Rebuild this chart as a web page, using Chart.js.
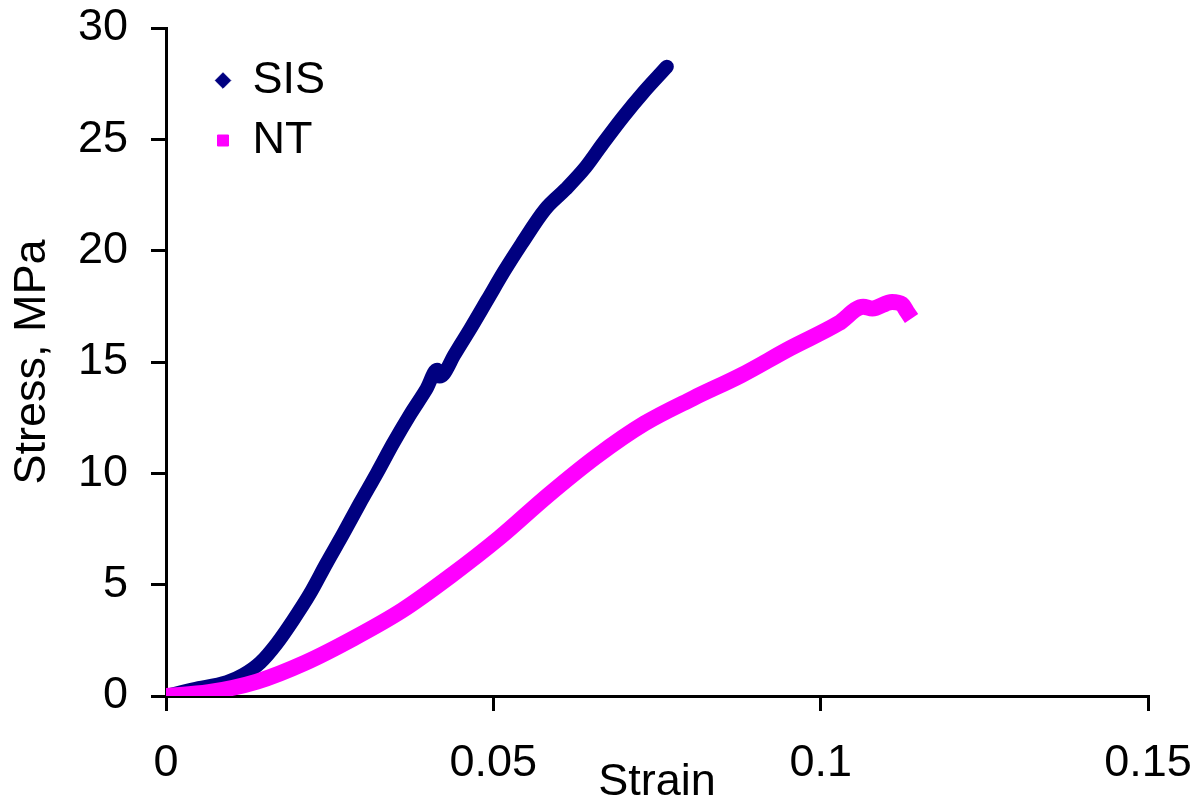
<!DOCTYPE html>
<html>
<head>
<meta charset="utf-8">
<script src="https://cdn.jsdelivr.net/npm/chart.js@4/dist/chart.umd.min.js"></script>
<style>
  body { margin: 0; background: #fff; }
  canvas { display: block; }
</style>
</head>
<body>
<canvas id="stressChart" width="1202" height="803"></canvas>
<script>
// values
const sisStrain = [0, 0.0042, 0.0093, 0.0118, 0.0144, 0.0169, 0.0194, 0.022, 0.0245, 0.0271, 0.0296, 0.0322, 0.0347, 0.0373, 0.0398, 0.0414, 0.0418, 0.0424, 0.044, 0.0465, 0.0491, 0.0517, 0.0543, 0.0579, 0.061, 0.0641, 0.0667, 0.0698, 0.0729, 0.0765];
const sisStress = [0, 0.3, 0.62, 0.95, 1.5, 2.35, 3.4, 4.6, 5.95, 7.3, 8.65, 10.0, 11.35, 12.65, 13.8, 14.65, 14.35, 14.45, 15.3, 16.5, 17.8, 19.1, 20.3, 21.85, 22.75, 23.75, 24.8, 26.0, 27.1, 28.26];

const ntStrain = [0, 0.0065, 0.0139, 0.0213, 0.0287, 0.0361, 0.0435, 0.0509, 0.0583, 0.0657, 0.0731, 0.0805, 0.0879, 0.0953, 0.1027, 0.1065, 0.1079, 0.1109, 0.1124, 0.1132];
const ntStress = [0, 0.17, 0.65, 1.5, 2.6, 3.85, 5.4, 7.1, 9.0, 10.75, 12.24, 13.37, 14.41, 15.61, 16.73, 17.48, 17.4, 17.7, 17.6, 17.25];

const xTicks = [0, 0.05, 0.1, 0.15];
const xTickLabels = ['0', '0.05', '0.1', '0.15'];
const yTicks = [0, 5, 10, 15, 20, 25, 30];

const toPoints = (xs, ys) => xs.map((x, i) => ({ x: x, y: ys[i] }));

const FONT = "'Liberation Sans', Arial, sans-serif";

// put the legend inside the plot, top-left
const legendShift = {
    id: 'legendShift',
    afterLayout(chart) {
        const lg = chart.legend;
        const h = lg.bottom - lg.top;
        lg.left += 35; lg.right += 35;
        lg.top = chart.chartArea.top + 15;
        lg.bottom = lg.top + h;
    }
};

const noPad = (scale) => {
    scale.paddingTop = 0; scale.paddingBottom = 0;
    scale.paddingLeft = 0; scale.paddingRight = 0;
};

const ctx = document.getElementById('stressChart').getContext('2d');

new Chart(ctx, {
    type: 'scatter',
    data: {
        datasets: [
            {
                label: 'SIS',
                data: toPoints(sisStrain, sisStress),
                showLine: true,
                borderColor: '#000080',
                backgroundColor: '#000080',
                borderWidth: 14,
                borderJoinStyle: 'round',
                borderCapStyle: 'round',
                pointRadius: 0,
                pointStyle: 'rectRot',
                cubicInterpolationMode: 'monotone',
                order: 1
            },
            {
                label: 'NT',
                data: toPoints(ntStrain, ntStress),
                showLine: true,
                borderColor: '#FF00FF',
                backgroundColor: '#FF00FF',
                borderWidth: 16,
                borderJoinStyle: 'round',
                borderCapStyle: 'square',
                pointRadius: 0,
                pointStyle: 'rect',
                cubicInterpolationMode: 'monotone',
                order: 0
            }
        ]
    },
    options: {
        responsive: false,
        animation: false,
        layout: { padding: { top: 28, right: 54, left: 0, bottom: 0 } },
        plugins: {
            tooltip: { enabled: false },
            legend: {
                position: 'chartArea',
                align: 'start',
                reverse: true,
                labels: {
                    usePointStyle: true,
                    boxWidth: 14,
                    boxHeight: 11,
                    padding: 15,
                    color: '#000',
                    font: { family: FONT, size: 45 },
                    generateLabels(chart) {
                        const items = Chart.defaults.plugins.legend.labels.generateLabels(chart);
                        items.forEach(it => { it.lineWidth = 1; });
                        return items;
                    }
                }
            }
        },
        scales: {
            x: {
                type: 'linear',
                min: 0,
                max: 0.15,
                afterBuildTicks(scale) { scale.ticks = xTicks.map(v => ({ value: v })); },
                afterFit(scale) { scale.height = 107; noPad(scale); },
                ticks: {
                    color: '#000',
                    padding: 26,
                    maxRotation: 0,
                    font: { family: FONT, size: 45 },
                    callback: (v) => xTickLabels[xTicks.indexOf(v)] ?? ''
                },
                grid: { drawOnChartArea: false, drawTicks: true, tickLength: 15, color: '#000', lineWidth: 3 },
                border: { display: true, color: '#000', width: 3 },
                title: {
                    display: true,
                    text: 'Strain',
                    color: '#000',
                    padding: 0,
                    font: { family: FONT, size: 45, lineHeight: 0.9 }
                }
            },
            y: {
                min: 0,
                max: 30,
                afterBuildTicks(scale) { scale.ticks = yTicks.map(v => ({ value: v })); },
                afterFit(scale) { scale.width = 166; noPad(scale); },
                ticks: {
                    color: '#000',
                    padding: 23,
                    font: { family: FONT, size: 45 }
                },
                grid: { drawOnChartArea: false, drawTicks: true, tickLength: 15, color: '#000', lineWidth: 3 },
                border: { display: true, color: '#000', width: 3 },
                title: {
                    display: true,
                    text: 'Stress, MPa',
                    color: '#000',
                    padding: { top: 6, bottom: 0 },
                    font: { family: FONT, size: 45 }
                }
            }
        }
    },
    plugins: [legendShift]
});
</script>
</body>
</html>
